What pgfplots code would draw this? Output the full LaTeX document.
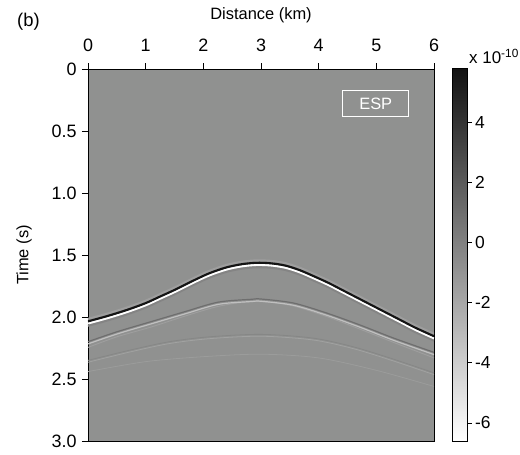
\documentclass[border=0pt]{standalone}
\usepackage{fontspec}
\setmainfont{Liberation Sans}
\usepackage{pgfplots}
\usepackage{pgfplotstable}
\pgfplotsset{compat=1.18}
\definecolor{bg}{RGB}{144,145,144}
\definecolor{evdark}{RGB}{110,110,110}
\definecolor{evlight}{RGB}{192,192,192}
\definecolor{halolight}{RGB}{158,158,158}
\definecolor{halodark}{RGB}{132,132,132}
\pgfplotstableread{
x t
0 2.035
0.33 1.993
0.67 1.944
1.0 1.888
1.25 1.835
1.5 1.782
1.82 1.708
2.1 1.648
2.4 1.600
2.67 1.574
2.92 1.563
3.17 1.567
3.42 1.585
3.67 1.622
3.92 1.672
4.17 1.725
4.42 1.785
4.67 1.845
4.92 1.905
5.17 1.965
5.42 2.025
5.67 2.085
6.0 2.155
}\mainev
\begin{document}
\begin{tikzpicture}
\useasboundingbox (-88bp,-14bp) rectangle (432bp,441bp);
\begin{axis}[
  at={(0,0)}, anchor=south west,
  scale only axis, width=346bp, height=372bp,
  xmin=0, xmax=6, ymin=0, ymax=3, y dir=reverse,
  axis background/.style={fill=bg},
  xtick={0,1,2,3,4,5,6},
  ytick={0,0.5,1,1.5,2,2.5,3},
  yticklabels={0,0.5,1.0,1.5,2.0,2.5,3.0},
  xtick pos=right, xticklabel pos=right, ytick pos=left,
  tick align=outside, major tick length=6bp,
  tick style={black, line width=0.8pt},
  axis line style={black, line width=0.9pt},
  /pgf/number format/assume math mode=true,
  ticklabel style={font=\fontsize{18}{21}\selectfont},
  xticklabel style={yshift=8bp},
  yticklabel style={xshift=-2bp},
  xlabel={Distance (km)}, ylabel={Time (s)},
  label style={font=\fontsize{16.5}{19}\selectfont},
  xlabel style={yshift=9bp},
  ylabel shift=13bp,
  colorbar,
  colormap={gm}{rgb255=(255,255,255) rgb255=(18,18,18)},
  point meta min=-6.6, point meta max=5.8,
  colorbar style={
    at={(parent axis.north east)}, anchor=north west,
    xshift=10bp, yshift=1bp,
    width=15bp, height=373bp,
    ytick={-6,-4,-2,0,2,4},
    yticklabels={-6,-4,-2,0,2,4},
    ytick pos=right, yticklabel pos=right,
    tick align=outside, major tick length=4bp,
    tick style={black, line width=0.7pt},
    axis line style={black, line width=0.7pt},
    yticklabel style={font=\fontsize{17.5}{20}\selectfont},
  },
  clip=true,
]
% faint deeper events
\addplot[color=bg!90!white, line width=0.8pt, smooth] coordinates {
 (0,2.44) (1.0,2.36) (2.0,2.32) (3.0,2.30) (4.0,2.33) (5.0,2.43) (6.0,2.56)};
\addplot[color=bg!93!black, line width=0.8pt, smooth] coordinates {
 (0,2.35) (0.7,2.27) (1.4,2.20) (2.1,2.16) (3.0,2.14) (3.9,2.17) (4.6,2.24) (5.3,2.34) (6.0,2.45)};
\addplot[color=bg!85!white, line width=0.8pt, smooth] coordinates {
 (0,2.365) (0.7,2.285) (1.4,2.215) (2.1,2.175) (3.0,2.155) (3.9,2.185) (4.6,2.255) (5.3,2.355) (6.0,2.465)};
% second branch
\addplot[color=halolight, line width=0.9pt, smooth] coordinates {
 (0,2.245) (0.5,2.16) (1.1,2.08) (1.7,1.99) (2.3,1.91) (2.9,1.875) (3.5,1.905) (4.1,1.99) (4.7,2.095) (5.3,2.205) (6.0,2.33)};
% second event
\addplot[color=evdark, line width=1.2pt, smooth] coordinates {
 (0,2.199) (0.51,2.118) (1.09,2.038) (1.68,1.957) (2.26,1.88) (2.84,1.857) (3.0,1.855) (3.56,1.887) (4.14,1.968) (4.72,2.065) (5.3,2.17) (6.0,2.285)};
\addplot[color=evlight, line width=1.2pt, smooth] coordinates {
 (0,2.217) (0.51,2.136) (1.09,2.056) (1.68,1.975) (2.26,1.898) (2.84,1.875) (3.0,1.873) (3.56,1.905) (4.14,1.986) (4.72,2.083) (5.3,2.188) (6.0,2.303)};
% main event: halos, white trough, black peak
\addplot[color=halolight, line width=2pt, smooth] table[x=x, y expr=\thisrow{t}-0.02] {\mainev};
\addplot[color=halodark, line width=2pt, smooth] table[x=x, y expr=\thisrow{t}+0.036] {\mainev};
\addplot[color=white, line width=2.1pt, smooth] table[x=x, y expr=\thisrow{t}+0.017] {\mainev};
\addplot[color=black!92, line width=2.1pt, smooth] table[x=x, y=t] {\mainev};
\node[draw=white, line width=0.9pt, text=white, minimum width=66bp, minimum height=26bp, inner sep=0pt,
  font=\fontsize{16.5}{19}\selectfont] at (axis cs:4.99,0.28) {ESP};
\end{axis}
\node[anchor=north west, inner sep=0pt, font=\fontsize{18.5}{21}\selectfont] at (-71bp,428bp) {(b)};
\node[anchor=base west, inner sep=0pt, font=\fontsize{17}{20}\selectfont] at (381bp,377bp) {x 10\textsuperscript{-10}};
\end{tikzpicture}
\end{document}
